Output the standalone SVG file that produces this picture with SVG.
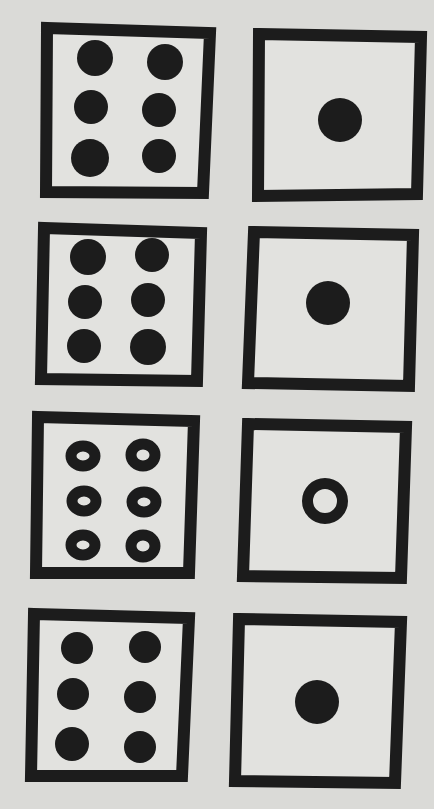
<svg xmlns="http://www.w3.org/2000/svg" width="434" height="809" viewBox="0 0 434 809">
<style>
.bg{fill:#dadad7}
.face{fill:#e2e2df;stroke:#1c1c1c;stroke-width:12;stroke-linejoin:miter}
.dot{fill:#1c1c1c}
.ring{fill:none;stroke:#1c1c1c;stroke-width:11}
</style>
<rect class="bg" x="0" y="0" width="434" height="809"/>
<g id="die-1-left">
<path class="face" d="M47 28 L210 33 L203 193 L46 192 Z"/>
<circle class="dot" cx="95" cy="58" r="18"/>
<circle class="dot" cx="165" cy="62" r="18"/>
<circle class="dot" cx="91" cy="107" r="17"/>
<circle class="dot" cx="159" cy="110" r="17"/>
<circle class="dot" cx="90" cy="158" r="19"/>
<circle class="dot" cx="159" cy="156" r="17"/>
</g>
<g id="die-1-right">
<path class="face" d="M259 34 L421 37 L417 194 L258 196 Z"/>
<circle class="dot" cx="340" cy="120" r="22"/>
</g>
<g id="die-2-left">
<path class="face" d="M44 228 L201 233 L197 381 L41 379 Z"/>
<circle class="dot" cx="88" cy="257" r="18"/>
<circle class="dot" cx="152" cy="255" r="17"/>
<circle class="dot" cx="85" cy="302" r="17"/>
<circle class="dot" cx="148" cy="300" r="17"/>
<circle class="dot" cx="84" cy="346" r="17"/>
<circle class="dot" cx="148" cy="347" r="18"/>
</g>
<g id="die-2-right">
<path class="face" d="M254 232 L413 235 L409 386 L248 383 Z"/>
<circle class="dot" cx="328" cy="303" r="22"/>
</g>
<g id="die-3-left">
<path class="face" d="M38 417 L194 421 L189 573 L36 573 Z"/>
<ellipse class="ring" cx="83" cy="456" rx="12" ry="10"/>
<ellipse class="ring" cx="143" cy="455" rx="12" ry="11"/>
<ellipse class="ring" cx="84" cy="501" rx="12" ry="10"/>
<ellipse class="ring" cx="144" cy="502" rx="12" ry="10"/>
<ellipse class="ring" cx="83" cy="545" rx="12" ry="10"/>
<ellipse class="ring" cx="143" cy="546" rx="12" ry="11"/>
</g>
<g id="die-3-right">
<path class="face" d="M248 424 L406 427 L401 578 L243 576 Z"/>
<circle class="ring" cx="325" cy="501" r="17.5"/>
</g>
<g id="die-4-left">
<path class="face" d="M34 614 L189 618 L182 776 L31 776 Z"/>
<circle class="dot" cx="77" cy="648" r="16"/>
<circle class="dot" cx="145" cy="647" r="16"/>
<circle class="dot" cx="73" cy="694" r="16"/>
<circle class="dot" cx="140" cy="697" r="16"/>
<circle class="dot" cx="72" cy="744" r="17"/>
<circle class="dot" cx="140" cy="747" r="16"/>
</g>
<g id="die-4-right">
<path class="face" d="M239 619 L401 622 L395 783 L235 781 Z"/>
<circle class="dot" cx="317" cy="702" r="22"/>
</g>
</svg>
